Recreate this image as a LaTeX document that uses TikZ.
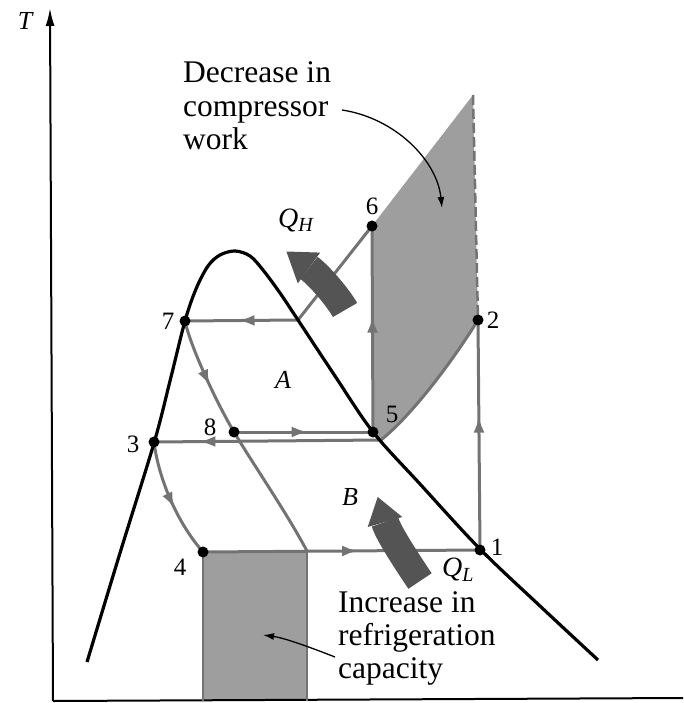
\documentclass[tikz,border=0pt]{standalone}
\usepackage{fontspec}
\setmainfont{Liberation Serif}
\usetikzlibrary{arrows.meta,decorations.markings}
\definecolor{cyc}{gray}{0.45}
\definecolor{shadefill}{gray}{0.62}
\definecolor{qcol}{gray}{0.33}
\tikzset{
  cycline/.style={draw=cyc, line width=3pt},
  domeline/.style={draw=black, line width=3.2pt, line join=round},
  midarr/.style={postaction={decorate}, decoration={markings, mark=at position #1 with {\arrow[color=cyc]{Latex[length=16pt,width=11pt]}}}},
  ptdot/.style={circle, fill=black, inner sep=0pt, minimum size=11pt},
  numlbl/.style={inner sep=0pt, font=\fontsize{25}{25}\selectfont},
  itlbl/.style={inner sep=0pt, font=\fontsize{26}{26}\selectfont\itshape},
  bigtxt/.style={inner sep=0pt, anchor=base west, font=\fontsize{31.5}{33}\selectfont},
  qtxt/.style={inner sep=0pt, anchor=base west, font=\fontsize{28}{28}\selectfont\itshape},
  qbody/.style={draw=qcol, line width=28pt},
  qhead/.style={fill=qcol},
  pointer/.style={draw=black, line width=1.3pt, -{Latex[length=11pt,width=7pt]}},
  axisline/.style={draw=black, line width=2pt},
}
\begin{document}
\begin{tikzpicture}[x=1pt,y=-1pt]
\useasboundingbox (0,0) rectangle (683,703);
% state points
\coordinate (c1) at (480,550);
\coordinate (c2) at (478,320);
\coordinate (c3) at (154,442);
\coordinate (c4) at (203,552);
\coordinate (c5) at (373,432);
\coordinate (c6) at (372,226);
\coordinate (c7) at (185,321);
\coordinate (c8) at (234,432);
\coordinate (c5b) at (381,440);
\coordinate (c6b) at (298,320);
\coordinate (c8b) at (307,551);
\coordinate (r4) at (203,701);
\coordinate (r8) at (307,701);
\coordinate (topw) at (473,95);
% axes
\coordinate (o) at (53,701);
\coordinate (ytop) at (50,8);
\coordinate (xend) at (683,698);
% shaded areas
\fill[shadefill] (c5) -- (c6) -- (topw) -- (c2) .. controls (452,362) and (412,415) .. (c5b) -- cycle;
\fill[shadefill] (c4) rectangle (r8);
\draw[cyc, line width=2.5pt, dash pattern=on 10pt off 4pt] (topw) -- (c2);
% axes
\draw[axisline, -{Latex[length=18pt,width=9pt]}] (o) -- (ytop);
\draw[axisline] (o) -- (xend);
% cycle lines
\draw[cycline, line width=2.5pt] (c4) -- (r4);
\draw[cycline, line width=2.5pt] (c8b) -- (r8);
\draw[cycline, midarr=0.56] (c4) -- (c1);
\draw[cycline, midarr=0.58] (c1) -- (c2);
\draw[cycline] (c2) .. controls (452,362) and (412,415) .. (c5b);
\draw[cycline, midarr=0.8] (c5b) -- (c3);
\draw[cycline, midarr=0.57] (c3) .. controls (158,475) and (175,520) .. (c4);
\draw[cycline, midarr=0.56] (c5) -- (c6);
\draw[cycline, midarr=0.77] (c6) -- (c6b) -- (c7);
\draw[cycline, midarr=0.57] (c7) .. controls (190,345) and (215,400) .. (c8);
\draw[cycline] (c8) .. controls (253,464) and (285,510) .. (c8b);
\draw[cycline, midarr=0.53] (c8) -- (c5);
% saturation dome
\draw[domeline] plot[smooth, tension=0.55] coordinates {(87,662) (120,553) (154,443) (170,381) (185,321) (196,289) (208,266) (220,255) (235,251) (250,256) (263,270) (280,293) (298,320) (335,376) (373,432) (420,484) (480,549) (540,606) (598,660)};
% dots
\node[ptdot] (p1) at (c1) {};
\node[ptdot] (p2) at (c2) {};
\node[ptdot] (p3) at (c3) {};
\node[ptdot] (p4) at (c4) {};
\node[ptdot] (p5) at (c5) {};
\node[ptdot] (p6) at (c6) {};
\node[ptdot] (p7) at (c7) {};
\node[ptdot] (p8) at (c8) {};
% heat arrows
\coordinate (qh1) at (345,310);
\coordinate (qh2) at (309,268);
\draw[qbody] (qh1) .. controls (339,299) and (320,276) .. (qh2);
\fill[qhead] (286.4,251.5) -- (320.2,252.6) -- (297.8,283.4) -- cycle;
\coordinate (ql1) at (420,581);
\coordinate (ql2) at (385,522);
\draw[qbody] (ql1) .. controls (410,566) and (388.5,534) .. (ql2);
\fill[qhead] (377.7,497) -- (402.3,517) -- (367.7,527) -- cycle;
% labels
\node[numlbl] (l1) at (497,547) {1};
\node[numlbl] (l2) at (493,320) {2};
\node[numlbl] (l3) at (133,444) {3};
\node[numlbl] (l4) at (180,567) {4};
\node[numlbl] (l5) at (392,414) {5};
\node[numlbl] (l6) at (372,206) {6};
\node[numlbl] (l7) at (168,321) {7};
\node[numlbl] (l8) at (210,427) {8};
\node[itlbl] (la) at (283,380) {A};
\node[itlbl] (lb) at (350,497) {B};
\node[itlbl] (lt) at (25,21) {T};
\node[qtxt] (qh) at (278,227) {Q\raisebox{-5pt}{\fontsize{20}{20}\selectfont H}};
\node[qtxt] (ql) at (442,576) {Q\raisebox{-5pt}{\fontsize{20}{20}\selectfont L}};
% texts
\node[bigtxt] (d1) at (183,83) {Decrease in};
\node[bigtxt] (d2) at (183,117) {compressor};
\node[bigtxt] (d3) at (183,150) {work};
\node[bigtxt] (i1) at (338,612) {Increase in};
\node[bigtxt] (i2) at (338,645) {refrigeration};
\node[bigtxt] (i3) at (338,678) {capacity};
% pointers
\coordinate (a1s) at (342,110);
\coordinate (a1e) at (442,208);
\draw[pointer] (a1s) .. controls (395,118) and (437,160) .. (a1e);
\coordinate (a2s) at (335,657);
\coordinate (a2e) at (263,635);
\draw[pointer] (a2s) .. controls (312,648) and (285,638) .. (a2e);
\end{tikzpicture}
\end{document}
